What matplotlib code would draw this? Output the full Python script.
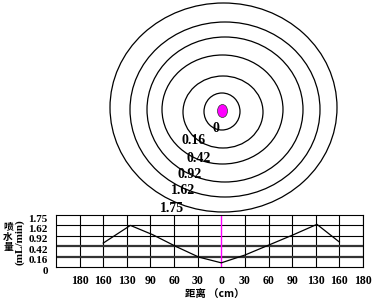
import matplotlib
matplotlib.use('Agg')
import matplotlib.pyplot as plt
import matplotlib.transforms as mtransforms
from matplotlib.patches import Ellipse

# water amount levels (mL/min), inner ring -> outer ring
water_levels = [0, 0.16, 0.42, 0.92, 1.62, 1.75]
level_labels = ['0', '0.16', '0.42', '0.92', '1.62', '1.75']

# distance tick labels (cm), left to right
dist_labels = ['180', '160', '130', '90', '60', '30', '0', '30', '60', '90', '130', '160', '180']
dist_pos = [-6, -5, -4, -3, -2, -1, 0, 1, 2, 3, 4, 5, 6]

# curve of water amount, in grid steps (x: distance column, y: level row)
curve_x = [-5, -3.85, -2.9, -1.9, -0.95, 0, 1, 2, 3.05, 4.05, 5]
curve_y = [2.3, 4.0, 3.1, 1.95, 0.95, 0.4, 1.15, 2.1, 3.1, 4.1, 2.4]

W, H = 377, 302
fig = plt.figure(figsize=(W / 100, H / 100), dpi=100)
num_font = 'Liberation Serif'
cjk_font = ['Noto Sans CJK SC', 'DejaVu Sans']

# ---- ring diagram (pixel coordinates) ----
ax0 = fig.add_axes([0, 0, 1, 1])
ax0.set_xlim(0, W)
ax0.set_ylim(H, 0)
ax0.axis('off')

ring_cx = [222, 223, 222.5, 225, 225, 223.5]
ring_cy = [111.5, 112, 109.5, 109.5, 109.5, 107.5]
ring_w = [36, 80, 121, 156, 190, 227]
ring_h = [37, 72, 109, 145, 175, 209]
for cx, cy, w, h in zip(ring_cx, ring_cy, ring_w, ring_h):
    ax0.add_patch(Ellipse((cx, cy), w, h, fill=False, edgecolor='black', lw=0.9))

ax0.add_patch(Ellipse((222.5, 111), 10, 13, facecolor='#ff00ff', edgecolor='#333333', lw=0.5, zorder=3))

label_xy = [(216, 128), (194, 140), (199, 159), (190, 174), (183, 190), (172, 208)]
for lab, (lx, ly) in zip(level_labels, label_xy):
    ax0.text(lx, ly, lab, fontsize=10, fontweight='bold', family=num_font,
             ha='center', va='center')

# ---- water amount chart ----
left, right, top, bottom = 56, 363, 215, 267
ax = fig.add_axes([left / W, 1 - bottom / H, (right - left) / W, (bottom - top) / H])
ax.set_facecolor('none')
ax.set_xlim(-7, 6)
ax.set_ylim(0, len(water_levels) - 1)

for xp in dist_pos:
    if xp == 0:
        ax.axvline(xp, color='#ff00ff', lw=1.0, zorder=2)
    else:
        ax.axvline(xp, color='black', lw=0.8, zorder=1)
for i in range(1, len(water_levels) - 1):
    thick = water_levels[i] in (0.16, 0.42)
    ax.axhline(i, color='#333333' if thick else 'black', lw=1.6 if thick else 0.8, zorder=1)

ax.plot(curve_x, curve_y, color='black', lw=0.9, zorder=3)

for s in ax.spines.values():
    s.set_linewidth(0.8)
    s.set_color('black')

ax.set_xticks(dist_pos)
ax.set_xticklabels(dist_labels, fontsize=8.5, fontweight='bold', family=num_font)
ax.set_yticks(range(len(water_levels)))
ax.set_yticklabels(level_labels, fontsize=8, fontweight='bold', family=num_font)
ax.tick_params(axis='both', length=0)
ax.tick_params(axis='x', pad=6)
ax.tick_params(axis='y', pad=6)
offset = mtransforms.ScaledTranslation(0, -3 / 100, fig.dpi_scale_trans)
for t in ax.get_yticklabels():
    t.set_transform(t.get_transform() + offset)

fig.text(215 / W, 1 - 295 / H, '距离 （cm）', fontsize=7.5, fontweight='bold',
         family=cjk_font, ha='center', va='center')
fig.text(8 / W, 1 - 237 / H, '喷\n水\n量', fontsize=7, fontweight='bold',
         family=cjk_font, ha='center', va='center', linespacing=1.05)
fig.text(20 / W, 1 - 242 / H, '(mL/min)', fontsize=8, fontweight='bold',
         family=num_font, ha='center', va='center', rotation=90)

fig.savefig('out.png', dpi=100)
